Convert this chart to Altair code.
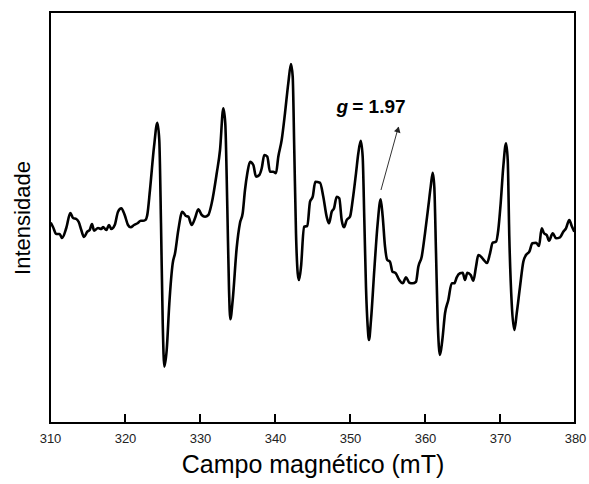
import altair as alt
import pandas as pd

field_mT = [310.09, 310.40, 310.84, 311.29, 311.60, 312.17, 312.71, 313.07, 313.51, 313.83,
            314.17, 314.53, 314.97, 315.29, 315.60, 315.87, 316.40, 316.84, 317.07, 317.51,
            317.87, 318.17, 318.63, 319.07, 319.51, 319.96, 320.40, 320.76, 321.20, 321.73,
            322.09, 322.40, 322.71, 322.97, 323.33, 323.87, 324.31, 324.57, 324.80, 325.03,
            325.24, 325.56, 325.91, 326.36, 326.67, 327.11, 327.64, 328.13, 328.44, 328.89,
            329.33, 329.77, 330.23, 330.67, 331.11, 331.56, 332.23, 332.67, 333.11, 333.37,
            333.64, 333.87, 334.04, 334.36, 334.89, 335.33, 335.69, 336.00, 336.31, 336.67,
            337.11, 337.47, 337.91, 338.23, 338.57, 338.97, 339.33, 339.77, 340.13, 340.44,
            340.89, 341.33, 341.77, 342.13, 342.36, 342.57, 342.80, 343.03, 343.20, 343.47,
            343.87, 344.31, 344.67, 345.03, 345.37, 346.00, 346.44, 346.89, 347.20, 347.56,
            347.87, 348.23, 348.57, 348.89, 349.20, 349.56, 350.00, 350.36, 350.80, 351.11,
            351.43, 351.69, 351.91, 352.13, 352.36, 352.53, 352.80, 353.24, 353.69, 354.09,
            354.36, 354.67, 354.97, 355.33, 355.67, 356.07, 356.57, 357.03, 357.47, 357.91,
            358.36, 358.80, 359.11, 359.56, 360.00, 360.44, 360.76, 361.03, 361.24, 361.47,
            361.69, 362.00, 362.31, 362.67, 363.11, 363.56, 363.91, 364.23, 364.67, 365.03,
            365.33, 365.64, 366.09, 366.44, 366.80, 367.11, 367.56, 367.77, 368.27, 368.67,
            369.03, 369.47, 369.77, 370.09, 370.44, 370.80, 371.03, 371.24, 371.56, 371.91,
            372.23, 372.67, 373.11, 373.47, 373.91, 374.31, 374.80, 375.20, 375.56, 375.87,
            376.23, 376.53, 377.03, 377.47, 378.00, 378.44, 378.80, 379.24, 379.56, 379.91]

intensity = [200.3, 196.0, 189.0, 189.0, 185.0, 195.0, 210.0, 205.0, 204.0, 201.0,
             193.0, 186.0, 191.3, 193.0, 199.0, 192.3, 195.0, 194.0, 196.0, 193.0,
             198.0, 194.0, 198.0, 211.3, 214.7, 208.0, 198.0, 195.7, 198.0, 200.0,
             202.3, 202.3, 203.0, 208.0, 233.0, 276.3, 300.3, 283.0, 199.7, 100.0,
             56.3, 73.0, 119.7, 159.7, 169.7, 193.0, 211.3, 207.0, 206.3, 198.0,
             204.7, 213.7, 208.0, 206.3, 208.0, 219.7, 249.7, 273.0, 314.7, 299.7,
             216.3, 133.0, 103.7, 123.0, 175.0, 200.0, 209.7, 233.0, 249.7, 261.3,
             258.0, 246.3, 248.0, 254.7, 268.0, 266.3, 251.3, 251.3, 249.7, 266.3,
             283.0, 309.7, 339.7, 359.0, 346.3, 273.0, 189.7, 149.7, 143.0, 156.3,
             196.3, 197.0, 221.3, 226.3, 241.3, 240.3, 226.3, 206.3, 199.7, 211.3,
             214.7, 226.3, 224.7, 203.0, 195.7, 203.0, 206.3, 223.0, 249.7, 269.7,
             282.3, 266.3, 203.0, 136.3, 96.3, 83.0, 103.0, 153.0, 199.7, 223.7,
             206.3, 176.3, 163.0, 161.3, 151.3, 150.0, 143.0, 139.7, 145.7, 140.3,
             139.7, 141.3, 156.3, 166.3, 189.7, 216.3, 236.3, 250.3, 236.3, 169.7,
             103.0, 68.0, 83.0, 109.7, 123.0, 139.7, 139.7, 145.7, 149.7, 150.3,
             143.0, 150.3, 148.0, 142.3, 156.3, 168.0, 165.7, 163.7, 160.0, 169.7,
             180.3, 181.3, 193.0, 219.7, 256.3, 279.7, 263.0, 186.3, 119.7, 93.0,
             109.7, 136.3, 161.3, 168.0, 171.3, 179.7, 180.3, 177.0, 194.7, 189.7,
             188.0, 182.3, 189.7, 184.7, 185.7, 191.3, 194.7, 203.0, 197.0, 191.3]

tick_values = [310, 320, 330, 340, 350, 360, 370, 380]
inner_ticks = [320, 330, 340, 350, 360, 370]

# annotation: g = 1.97 with arrow
arrow_start = (354.13, 233.0)
arrow_end = (356.45, 296.0)
arrow_head = (356.40, 293.5)
label_g = (349.75, 310.0)
label_val = (350.30, 310.0)

FONT = "Liberation Sans"

df = pd.DataFrame({"campo": field_mT, "int": intensity})
x_scale = alt.Scale(domain=[310, 380], nice=False, zero=False)
y_scale = alt.Scale(domain=[0, 411], nice=False, zero=False)

line = alt.Chart(df).mark_line(color="black", strokeWidth=2.6, strokeJoin="round",
                               interpolate="monotone").encode(
    x=alt.X("campo:Q", scale=x_scale,
            axis=alt.Axis(values=tick_values, ticks=False, domain=False, grid=False,
                          labelFontSize=13, labelColor="#222", labelFont=FONT, labelPadding=9,
                          title="Campo magnético (mT)", titleFont=FONT, titleFontSize=25,
                          titleFontWeight="normal", titleColor="black", titlePadding=7,
                          labelFlush=False)),
    y=alt.Y("int:Q", scale=y_scale,
            axis=alt.Axis(labels=False, ticks=False, domain=False, grid=False,
                          title="Intensidade", titleFont=FONT, titleFontSize=22,
                          titleFontWeight="normal", titleColor="black", titlePadding=16)),
)

tick_df = pd.DataFrame({"t": inner_ticks, "y0": [0] * len(inner_ticks), "y1": [9] * len(inner_ticks)})
ticks = alt.Chart(tick_df).mark_rule(color="black", strokeWidth=2).encode(
    x=alt.X("t:Q", scale=x_scale),
    y=alt.Y("y0:Q", scale=y_scale), y2="y1:Q",
)

arrow_df = pd.DataFrame({"x": [arrow_start[0]], "y": [arrow_start[1]],
                         "x2": [arrow_end[0]], "y2": [arrow_end[1]]})
arrow = alt.Chart(arrow_df).mark_rule(color="#333", strokeWidth=1).encode(
    x=alt.X("x:Q", scale=x_scale), y=alt.Y("y:Q", scale=y_scale),
    x2="x2:Q", y2="y2:Q",
)
head = alt.Chart(pd.DataFrame({"x": [arrow_head[0]], "y": [arrow_head[1]]})).mark_point(
    shape="triangle-up", filled=True, color="#222", size=45, angle=16, opacity=1
).encode(x=alt.X("x:Q", scale=x_scale), y=alt.Y("y:Q", scale=y_scale))

g_text = alt.Chart(pd.DataFrame({"x": [label_g[0]], "y": [label_g[1]], "t": ["g"]})).mark_text(
    align="right", baseline="alphabetic", font=FONT, fontSize=19, fontWeight="bold",
    fontStyle="italic", color="black"
).encode(x=alt.X("x:Q", scale=x_scale), y=alt.Y("y:Q", scale=y_scale), text="t:N")

v_text = alt.Chart(pd.DataFrame({"x": [label_val[0]], "y": [label_val[1]], "t": ["= 1.97"]})).mark_text(
    align="left", baseline="alphabetic", font=FONT, fontSize=19, fontWeight="bold", color="black"
).encode(x=alt.X("x:Q", scale=x_scale), y=alt.Y("y:Q", scale=y_scale), text="t:N")

chart = alt.layer(line, ticks, arrow, head, g_text, v_text).properties(
    width=525, height=411,
    autosize=alt.AutoSizeParams(type="none"),
    padding={"left": 50, "top": 12, "right": 14, "bottom": 61},
    background="white",
).configure_view(stroke="black", strokeWidth=2)

chart.save("out.html", embed_options={"renderer": "svg", "actions": False})
